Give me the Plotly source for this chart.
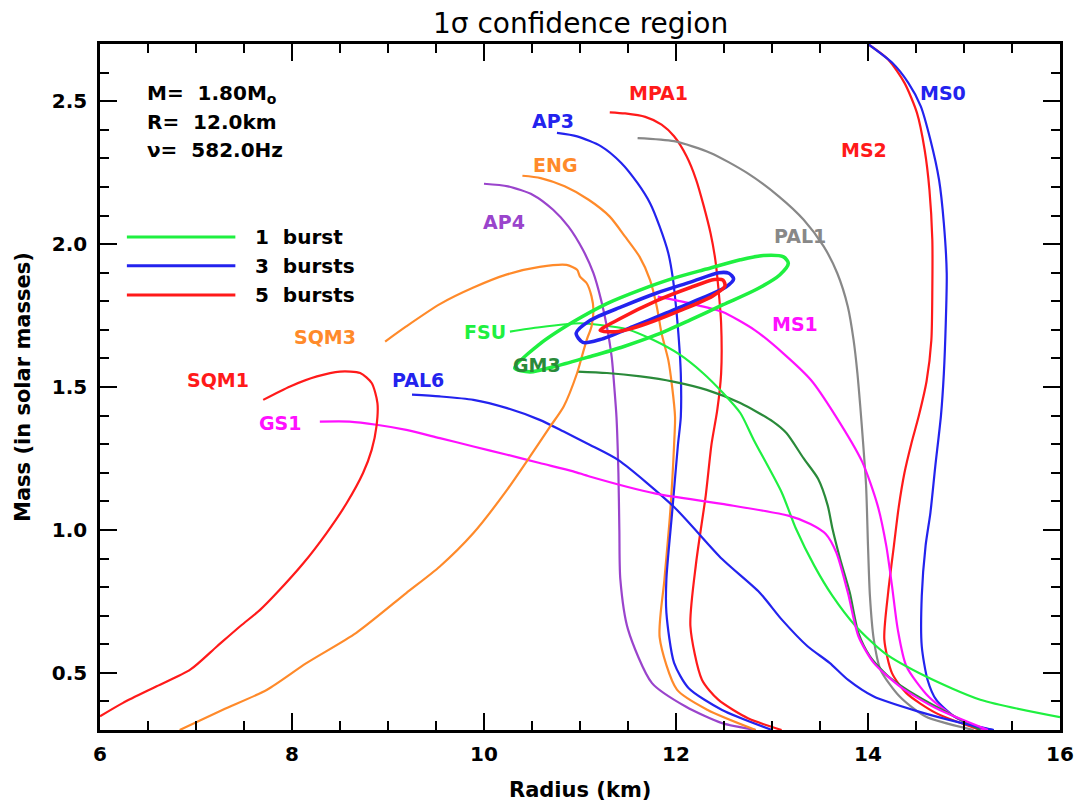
import plotly.graph_objects as go

# ---------------- data (radius km, mass Msun) ----------------
ap4_r = [10.0, 10.25, 10.51, 10.72, 10.88, 11.03, 11.14, 11.22, 11.28, 11.33, 11.36, 11.38, 11.40, 11.41, 11.42, 11.50, 11.75, 12.10, 12.48, 12.83]
ap4_m = [2.211, 2.202, 2.172, 2.120, 2.061, 1.980, 1.898, 1.804, 1.711, 1.605, 1.488, 1.395, 1.20, 1.00, 0.828, 0.652, 0.464, 0.382, 0.324, 0.30]

eng_r = [10.40, 10.59, 10.84, 11.09, 11.31, 11.47, 11.62, 11.73, 11.80, 11.85, 11.92, 11.96, 11.99, 11.98, 11.94, 11.88, 11.83, 12.01, 12.33, 12.83]
eng_m = [2.239, 2.231, 2.202, 2.155, 2.096, 2.026, 1.956, 1.874, 1.781, 1.687, 1.594, 1.50, 1.395, 1.297, 1.062, 0.828, 0.623, 0.441, 0.370, 0.30]

ap3_r = [10.76, 10.97, 11.22, 11.43, 11.60, 11.73, 11.83, 11.92, 11.97, 12.00, 12.03, 12.05, 12.05, 12.02, 11.96, 11.90, 11.90, 11.98, 12.13, 12.48, 13.0]
ap3_m = [2.389, 2.377, 2.342, 2.284, 2.213, 2.143, 2.061, 1.968, 1.874, 1.781, 1.664, 1.547, 1.395, 1.297, 1.062, 0.828, 0.710, 0.535, 0.447, 0.370, 0.30]

mpa1_r = [11.31, 11.47, 11.68, 11.85, 11.98, 12.11, 12.21, 12.29, 12.36, 12.41, 12.44, 12.47, 12.47, 12.43, 12.37, 12.31, 12.21, 12.15, 12.27, 12.44, 12.75, 13.10]
mpa1_m = [2.461, 2.457, 2.445, 2.418, 2.377, 2.307, 2.225, 2.132, 2.038, 1.944, 1.851, 1.722, 1.547, 1.42, 1.30, 1.121, 0.886, 0.664, 0.476, 0.406, 0.341, 0.30]

pal1_r = [11.60, 11.98, 12.36, 12.74, 13.07, 13.33, 13.54, 13.68, 13.79, 13.85, 13.89, 13.92, 13.95, 13.98, 14.0, 14.02, 14.06, 14.13, 14.33, 14.60, 15.10]
pal1_m = [2.371, 2.360, 2.319, 2.249, 2.167, 2.085, 1.991, 1.898, 1.781, 1.664, 1.547, 1.430, 1.30, 1.156, 0.945, 0.769, 0.617, 0.511, 0.417, 0.347, 0.30]

ms2_r = [14.0, 14.21, 14.38, 14.51, 14.59, 14.64, 14.67, 14.67, 14.66, 14.61, 14.53, 14.45, 14.38, 14.32, 14.27, 14.21, 14.17, 14.25, 14.40, 14.71, 15.17]
ms2_m = [2.70, 2.646, 2.564, 2.459, 2.330, 2.190, 2.015, 1.839, 1.664, 1.520, 1.400, 1.300, 1.200, 1.080, 0.945, 0.781, 0.617, 0.499, 0.429, 0.359, 0.30]

ms0_r = [14.0, 14.25, 14.42, 14.55, 14.65, 14.74, 14.79, 14.82, 14.81, 14.79, 14.76, 14.70, 14.65, 14.60, 14.56, 14.56, 14.62, 14.71, 14.90, 15.13, 15.31]
ms0_m = [2.70, 2.635, 2.564, 2.482, 2.365, 2.225, 2.073, 1.898, 1.722, 1.547, 1.40, 1.22, 1.06, 0.945, 0.769, 0.593, 0.476, 0.406, 0.347, 0.312, 0.30]

ms1_r = [11.81, 12.15, 12.48, 12.82, 13.12, 13.41, 13.66, 13.94, 14.10, 14.19, 14.25, 14.31, 14.40, 14.63, 14.90, 15.21]
ms1_m = [1.816, 1.792, 1.763, 1.699, 1.617, 1.523, 1.400, 1.238, 1.086, 0.945, 0.804, 0.652, 0.523, 0.417, 0.347, 0.30]

fsu_r = [10.27, 10.58, 11.0, 11.21, 11.49, 11.76, 12.04, 12.28, 12.49, 12.67, 12.81, 13.10, 13.25, 13.44, 13.63, 13.87, 14.17, 14.60, 15.17, 16.0]
fsu_m = [1.694, 1.709, 1.723, 1.717, 1.702, 1.665, 1.613, 1.549, 1.479, 1.409, 1.315, 1.132, 1.004, 0.875, 0.769, 0.664, 0.570, 0.488, 0.406, 0.345]

gm3_r = [10.97, 11.28, 11.63, 11.97, 12.32, 12.67, 13.01, 13.15, 13.33, 13.48, 13.58, 13.63, 13.71, 13.81, 13.90, 14.02, 14.21, 14.52, 15.17]
gm3_m = [1.554, 1.549, 1.537, 1.519, 1.490, 1.444, 1.379, 1.339, 1.25, 1.179, 1.086, 1.004, 0.898, 0.781, 0.64, 0.558, 0.488, 0.417, 0.30]

pal6_r = [9.25, 9.54, 9.89, 10.24, 10.58, 10.83, 11.10, 11.40, 11.98, 12.48, 12.87, 13.10, 13.37, 13.60, 13.79, 14.06, 14.52, 14.98, 15.31]
pal6_m = [1.473, 1.467, 1.455, 1.426, 1.385, 1.344, 1.298, 1.244, 1.08, 0.898, 0.781, 0.687, 0.593, 0.535, 0.476, 0.417, 0.365, 0.324, 0.30]

gs1_r = [8.29, 8.60, 8.88, 9.19, 9.54, 9.89, 10.24, 10.58, 10.93, 11.10, 11.79, 12.48, 13.17, 13.40, 13.56, 13.67, 13.79, 13.90, 14.06, 14.33, 14.71, 15.25]
gs1_m = [1.379, 1.379, 1.368, 1.350, 1.321, 1.292, 1.263, 1.234, 1.205, 1.187, 1.127, 1.091, 1.05, 1.021, 0.986, 0.921, 0.781, 0.628, 0.535, 0.453, 0.376, 0.30]

sqm3_r = [8.97, 9.19, 9.54, 9.89, 10.24, 10.58, 10.86, 10.97, 11.0, 11.07, 11.12, 11.14, 11.12, 11.07, 11.02, 10.97, 10.83, 10.69, 10.48, 10.24, 9.89, 9.54, 9.19, 8.67, 8.15, 7.74, 7.28, 6.83]
sqm3_m = [1.659, 1.712, 1.790, 1.848, 1.894, 1.920, 1.927, 1.910, 1.886, 1.863, 1.817, 1.770, 1.712, 1.665, 1.607, 1.549, 1.432, 1.362, 1.257, 1.140, 0.989, 0.872, 0.779, 0.640, 0.534, 0.441, 0.371, 0.30]

sqm1_r = [7.70, 7.98, 8.26, 8.50, 8.71, 8.83, 8.89, 8.88, 8.83, 8.74, 8.57, 8.36, 8.12, 7.84, 7.67, 7.46, 7.22, 6.94, 6.59, 6.24, 6.0]
sqm1_m = [1.455, 1.502, 1.537, 1.554, 1.549, 1.514, 1.444, 1.362, 1.280, 1.199, 1.094, 0.989, 0.884, 0.779, 0.721, 0.663, 0.593, 0.511, 0.453, 0.395, 0.348]

# confidence contours (closed)
ell1_r = [10.32, 10.58, 10.93, 11.28, 11.63, 11.97, 12.32, 12.67, 12.91, 13.12, 13.17, 13.08, 12.84, 12.49, 12.15, 11.80, 11.45, 11.10, 10.76, 10.48, 10.32]
ell1_m = [1.566, 1.650, 1.728, 1.792, 1.840, 1.880, 1.913, 1.945, 1.960, 1.955, 1.933, 1.892, 1.842, 1.788, 1.735, 1.683, 1.641, 1.606, 1.574, 1.553, 1.566]
ell3_r = [10.96, 11.10, 11.45, 11.80, 12.15, 12.45, 12.55, 12.60, 12.52, 12.25, 11.90, 11.55, 11.21, 11.03, 10.96]
ell3_m = [1.688, 1.732, 1.783, 1.829, 1.867, 1.900, 1.898, 1.878, 1.850, 1.808, 1.759, 1.711, 1.666, 1.656, 1.688]
ell5_r = [11.21, 11.40, 11.80, 12.15, 12.40, 12.49, 12.51, 12.38, 12.04, 11.69, 11.40, 11.21]
ell5_m = [1.698, 1.736, 1.802, 1.848, 1.876, 1.874, 1.853, 1.818, 1.767, 1.721, 1.694, 1.698]

GREEN = "#1ff040"
BLUE = "#2323ee"
RED = "#ff1a1a"
ORANGE = "#ff8a2a"
PURPLE = "#9a44cc"
MAGENTA = "#ff10ff"
GREY = "#888888"
DKGREEN = "#2a8a3a"

curves = [
    ("AP4", ap4_r, ap4_m, PURPLE, 10.21, 2.077),
    ("ENG", eng_r, eng_m, ORANGE, 10.74, 2.278),
    ("AP3", ap3_r, ap3_m, BLUE, 10.72, 2.43),
    ("MPA1", mpa1_r, mpa1_m, RED, 11.82, 2.527),
    ("PAL1", pal1_r, pal1_m, GREY, 13.29, 2.029),
    ("MS2", ms2_r, ms2_m, RED, 13.96, 2.328),
    ("MS0", ms0_r, ms0_m, BLUE, 14.78, 2.529),
    ("MS1", ms1_r, ms1_m, MAGENTA, 13.24, 1.722),
    ("GM3", gm3_r, gm3_m, DKGREEN, 10.55, 1.576),
    ("FSU", fsu_r, fsu_m, GREEN, 10.01, 1.693),
    ("PAL6", pal6_r, pal6_m, BLUE, 9.31, 1.523),
    ("GS1", gs1_r, gs1_m, MAGENTA, 7.875, 1.374),
    ("SQM3", sqm3_r, sqm3_m, ORANGE, 8.34, 1.674),
    ("SQM1", sqm1_r, sqm1_m, RED, 7.23, 1.523),
]

fig = go.Figure()
for name, r, m, col, lx, ly in curves:
    fig.add_trace(go.Scatter(x=r, y=m, mode="lines", name=name,
                             line=dict(color=col, width=2.2, shape="spline", smoothing=0.7),
                             showlegend=False, hoverinfo="skip"))

for name, r, m, col in [("1 burst", ell1_r, ell1_m, GREEN),
                        ("3 bursts", ell3_r, ell3_m, BLUE),
                        ("5 bursts", ell5_r, ell5_m, RED)]:
    fig.add_trace(go.Scatter(x=r, y=m, mode="lines", name=name,
                             line=dict(color=col, width=3.6, shape="spline", smoothing=0.8),
                             showlegend=False, hoverinfo="skip"))

LABFONT = "DejaVu Sans"
annotations = []
for name, r, m, col, lx, ly in curves:
    annotations.append(dict(x=lx, y=ly, xref="x", yref="y", text=name, showarrow=False,
                            font=dict(family=LABFONT, size=19, color=col, weight="bold"),
                            xanchor="center", yanchor="middle"))

# info text
info = ["M=  1.80M<sub>o</sub>", "R=  12.0km", "ν=  582.0Hz"]
info_y = [2.525, 2.427, 2.329]
for t, yy in zip(info, info_y):
    annotations.append(dict(x=6.47, y=yy, xref="x", yref="y", text=t, showarrow=False,
                            font=dict(family=LABFONT, size=20, color="black", weight="bold"),
                            xanchor="left", yanchor="middle"))

# legend
leg_names = ["1  burst", "3  bursts", "5  bursts"]
leg_cols = [GREEN, BLUE, RED]
leg_y = [2.025, 1.924, 1.822]
shapes = []
for t, c, yy in zip(leg_names, leg_cols, leg_y):
    shapes.append(dict(type="line", xref="x", yref="y", x0=6.28, x1=7.41, y0=yy, y1=yy,
                       line=dict(color=c, width=3)))
    annotations.append(dict(x=7.59, y=yy, xref="x", yref="y", text=t, showarrow=False,
                            font=dict(family=LABFONT, size=20, color="black", weight="bold"),
                            xanchor="left", yanchor="middle"))

# titles
annotations.append(dict(x=0.5, y=1.0, xref="paper", yref="paper", text="1σ confidence region",
                        showarrow=False, yanchor="bottom", yshift=2,
                        font=dict(family="DejaVu Sans", size=28, color="black")))
annotations.append(dict(x=0.5, y=0, xref="paper", yref="paper", text="Radius (km)", showarrow=False,
                        yanchor="top", yshift=-46,
                        font=dict(family=LABFONT, size=21, color="black", weight="bold")))
annotations.append(dict(x=0, y=0.5, xref="paper", yref="paper", text="Mass (in solar masses)",
                        showarrow=False, textangle=-90, xanchor="right", xshift=-63,
                        font=dict(family=LABFONT, size=21, color="black", weight="bold")))

axis_common = dict(showgrid=False, zeroline=False, showline=True, linecolor="black", linewidth=2.5,
                   mirror="ticks", ticks="inside", tickcolor="black", tickwidth=2, ticklen=17,
                   tickfont=dict(family=LABFONT, size=20, color="black", weight="bold"))

fig.update_layout(
    width=1083, height=811,
    margin=dict(l=92, r=31, t=36, b=89),
    paper_bgcolor="white", plot_bgcolor="white",
    xaxis=dict(range=[6, 16], tickvals=[6, 8, 10, 12, 14, 16], ticklabelstandoff=4,
               minor=dict(ticks="inside", dtick=0.5, ticklen=9, tickcolor="black", tickwidth=2, showgrid=False),
               **axis_common),
    yaxis=dict(range=[0.3, 2.7], tickvals=[0.5, 1.0, 1.5, 2.0, 2.5],
               ticktext=["0.5", "1.0", "1.5", "2.0", "2.5"], ticklabelstandoff=6,
               minor=dict(ticks="inside", dtick=0.1, ticklen=9, tickcolor="black", tickwidth=2, showgrid=False),
               **axis_common),
    annotations=annotations,
    shapes=shapes,
)

fig.write_html("out.html")
